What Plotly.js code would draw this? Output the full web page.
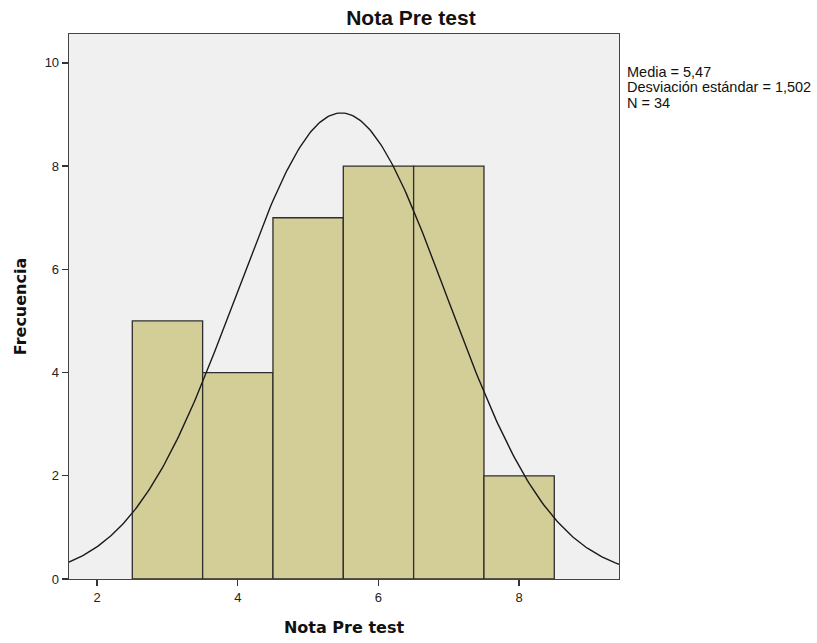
<!DOCTYPE html>
<html>
<head>
<meta charset="utf-8">
<script src="https://cdn.plot.ly/plotly-3.0.1.min.js"></script>
<style>
  html, body { margin: 0; padding: 0; background: #ffffff; }
  #chart { width: 817px; height: 643px; }
</style>
</head>
<body>
<div id="chart"></div>
<script>
// Histogram of "Nota Pre test" scores (bin width 1)
const binCenters = [3, 4, 5, 6, 7, 8];
const frequencies = [5, 4, 7, 8, 8, 2];

// Summary statistics printed beside the plot
const mean = 5.47;
const stdDev = 1.502;
const n = 34;
const binWidth = 1;

// Normal curve scaled to counts: N * binWidth * pdf(x)
const curveX = [];
const curveY = [];
for (let i = 0; i <= 300; i++) {
  const x = 1.6 + (9.42 - 1.6) * i / 300;
  const z = (x - mean) / stdDev;
  curveX.push(x);
  curveY.push(n * binWidth * Math.exp(-0.5 * z * z) / (stdDev * Math.sqrt(2 * Math.PI)));
}

const bars = {
  type: 'bar',
  x: binCenters,
  y: frequencies,
  width: binWidth,
  marker: { color: '#d3ce98', line: { color: '#2e2e2e', width: 1.3 } },
  hoverinfo: 'x+y'
};

const curve = {
  type: 'scatter',
  mode: 'lines',
  x: curveX,
  y: curveY,
  line: { color: '#1a1a1a', width: 1.4 },
  hoverinfo: 'skip'
};

const fmt = v => v.toString().replace('.', ',');

// Statistics block: one annotation per line for tight line spacing
const statLines = [
  'Media = ' + fmt(mean),
  'Desviación estándar = ' + fmt(stdDev),
  'N = ' + n
];
const statFont = { family: 'Liberation Sans, Arial', size: 14.5, color: '#111' };
const statAnnotations = statLines.map((t, i) => ({
  xref: 'paper', yref: 'paper',
  x: 1.011, y: (579 - (72 + 15.3 * i)) / 545,
  xanchor: 'left', yanchor: 'middle',
  align: 'left', showarrow: false,
  text: t, font: statFont
}));

const layout = {
  width: 817,
  height: 643,
  margin: { l: 69, r: 198, t: 34, b: 64 },
  paper_bgcolor: '#ffffff',
  plot_bgcolor: '#f0f0f0',
  showlegend: false,
  bargap: 0,
  title: {
    text: '<b>Nota Pre test</b>',
    font: { family: 'Liberation Sans, Arial', size: 21, color: '#111' },
    x: 0.503, xanchor: 'center', xref: 'container',
    y: 1 - 18 / 643, yanchor: 'middle', yref: 'container'
  },
  xaxis: {
    range: [1.6, 9.42],
    tickvals: [2, 4, 6, 8],
    ticks: 'outside', ticklen: 6, tickwidth: 1.3, tickcolor: '#333',
    showgrid: false, zeroline: false,
    showline: true, linecolor: '#444', linewidth: 1.3, mirror: true,
    tickfont: { family: 'Liberation Sans, Arial', size: 13, color: '#222' },
    title: {
      text: '<b>Nota Pre test</b>',
      font: { family: 'DejaVu Sans, Liberation Sans', size: 16, color: '#111' },
      standoff: 18
    }
  },
  yaxis: {
    range: [0, 10.56],
    tickvals: [0, 2, 4, 6, 8, 10],
    ticks: 'outside', ticklen: 6, tickwidth: 1.3, tickcolor: '#333',
    showgrid: false, zeroline: false,
    showline: true, linecolor: '#444', linewidth: 1.3, mirror: true,
    tickfont: { family: 'Liberation Sans, Arial', size: 13, color: '#222' },
    title: {
      text: '<b>Frecuencia</b>',
      font: { family: 'DejaVu Sans, Liberation Sans', size: 16, color: '#111' },
      standoff: 14
    }
  },
  annotations: statAnnotations
};

Plotly.newPlot('chart', [bars, curve], layout, { displayModeBar: false, staticPlot: true });
</script>
</body>
</html>
